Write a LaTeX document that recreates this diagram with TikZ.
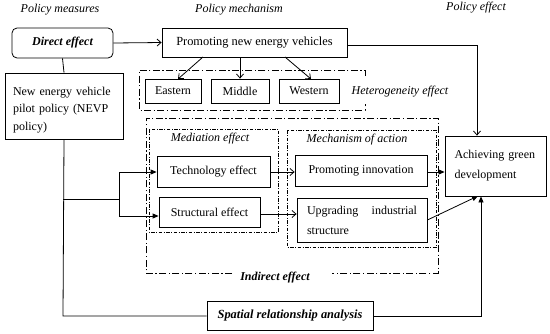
\documentclass[tikz,border=0pt]{standalone}
\usepackage{fontspec}
\setmainfont{Liberation Serif}
\usetikzlibrary{arrows.meta}
\begin{document}
\begin{tikzpicture}[x=1pt,y=-1pt,
  txt/.style={font=\fontsize{12}{14}\selectfont, inner sep=0pt},
  box/.style={draw, line width=0.8pt, inner sep=0pt, align=center, font=\fontsize{12}{14}\selectfont},
  ddbox/.style={draw, line width=0.8pt, dash pattern=on 7pt off 2.5pt on 1.2pt off 2.5pt},
  fdbox/.style={draw, line width=0.8pt, dash pattern=on 3.5pt off 1.5pt on 1pt off 1.5pt},
  conn/.style={draw, line width=0.8pt},
  openarr/.style={conn, -{Straight Barb[length=4pt,width=7pt]}},
  fillarr/.style={conn, -{Triangle[length=6pt,width=5pt]}}
]
\useasboundingbox (0,0) rectangle (550,333);
\fill[white] (0,0) rectangle (550,333);

% titles
\node[txt, font=\fontsize{12}{14}\selectfont\itshape] (t1) at (60,10) {Policy measures};
\node[txt, font=\fontsize{12}{14}\selectfont\itshape] (t2) at (239,10) {Policy mechanism};
\node[txt, font=\fontsize{12}{14}\selectfont\itshape] (t3) at (476,8) {Policy effect};

% left column
\node[box, minimum width=101pt, minimum height=30pt, rounded corners=5pt, font=\fontsize{12}{14}\selectfont\bfseries\itshape] (direct) at (62.5,43) {Direct effect};
\node[box, minimum width=118pt, minimum height=66pt] (nevp) at (64,106) {};
\node[txt, text width=102pt, align=left, font=\fontsize{12}{17.5}\selectfont] (nevpt) at (64,110)
  {\makebox[102pt][s]{New energy vehicle}\\\makebox[102pt][s]{pilot policy (NEVP}\\policy)};

% top mechanism
\node[box, minimum width=185pt, minimum height=29pt, font=\fontsize{12.4}{14}\selectfont] (prom) at (254.5,42.5) {Promoting new energy vehicles};
\draw[ddbox] (365,76) -- (365,70) -- (139,70) -- (139,110) -- (365,110) -- (365,104);
\node[box, minimum width=56pt, minimum height=24pt] (east) at (173,91) {Eastern};
\node[box, minimum width=58pt, minimum height=24pt] (mid) at (240,91) {Middle};
\node[box, minimum width=60pt, minimum height=24pt] (west) at (309,91) {Western};
\node[txt, font=\fontsize{12}{14}\selectfont\itshape] (het) at (400,92) {Heterogeneity effect};

% indirect effect frame
\draw[ddbox] (232,273) -- (146,273) -- (146,118) -- (438,118) -- (438,273) -- (332,273);
\node[txt, font=\fontsize{12}{14}\selectfont\bfseries\itshape] (indirect) at (275,278) {Indirect effect};

\draw[fdbox] (149,129) rectangle (278,232);
\node[txt, font=\fontsize{12}{14}\selectfont\itshape] (medt) at (210,138.5) {Mediation effect};
\draw[fdbox] (287,130) rectangle (436,247);
\node[txt, font=\fontsize{12}{14}\selectfont\itshape] (mecht) at (357,139.5) {Mechanism of action};

\node[box, minimum width=113pt, minimum height=31pt] (tech) at (213.5,171.5) {Technology effect};
\node[box, minimum width=101pt, minimum height=30pt] (struct) at (209.5,212) {Structural effect};
\node[box, minimum width=132pt, minimum height=31pt] (innov) at (361,170.5) {Promoting innovation};
\node[box, minimum width=130pt, minimum height=44pt, text width=110pt, align=left, font=\fontsize{12}{20}\selectfont] (upg) at (362,220)
  {Upgrading\hfill industrial\\structure};
\node[box, minimum width=101pt, minimum height=60pt, text width=82pt, align=left, font=\fontsize{12}{20}\selectfont] (green) at (495.5,166)
  {\makebox[82pt][s]{Achieving green}\\development};

\node[box, minimum width=166pt, minimum height=29pt, font=\fontsize{12.4}{14}\selectfont\bfseries\itshape] (spat) at (290,316) {Spatial relationship analysis};

% connectors
\draw[conn] (direct.south) -- (nevp.north);
\draw[openarr] (direct.east) -- (prom.west);
\coordinate (pe1) at (203,57);
\coordinate (pe2) at (285,57);
\draw[openarr] (pe1) -- (178,79);
\draw[openarr] (prom.south -| mid.north) -- (mid.north);
\draw[openarr] (pe2) -- (311,79);
\coordinate (rc) at (477,45);
\draw[openarr] (prom.east |- rc) -- (rc) -- (rc |- green.north);

\coordinate (br) at (63,199);
\coordinate (bx) at (119,199);
\draw[conn] (nevp.south) -- (63,316) -- (spat.west);
\draw[conn] (br) -- (bx);
\draw[fillarr] (bx) -- (119,172) -- (tech.west |- 0,172);
\draw[fillarr] (bx) -- (119,216) -- (struct.west |- 0,216);

\draw[openarr] (tech.east |- 0,172) -- (innov.west |- 0,172);
\draw[openarr] (struct.east |- 0,214) -- (upg.west |- 0,214);
\draw[fillarr] (innov.east |- 0,172) -- (green.west |- 0,172);
\draw[fillarr] (upg.east |- 0,220) -- (478,196);
\coordinate (bc) at (481,316);
\draw[fillarr] (spat.east) -- (bc) -- (bc |- green.south);
\end{tikzpicture}
\end{document}
